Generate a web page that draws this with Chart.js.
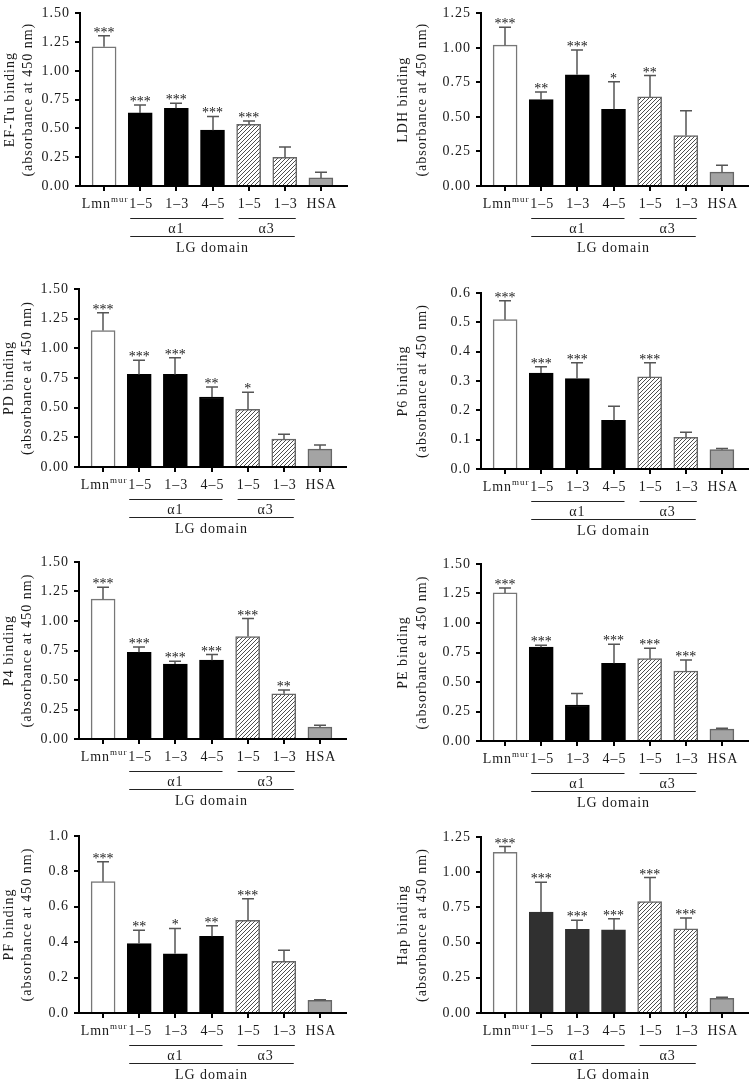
<!DOCTYPE html>
<html>
<head>
<meta charset="utf-8">
<script src="https://cdn.jsdelivr.net/npm/chart.js@4.4.1/dist/chart.umd.min.js"></script>
<style>
body{margin:0;background:#fff;}
#wrap{position:relative;width:750px;height:1082px;}
canvas{position:absolute;}
</style>
</head>
<body>
<div id="wrap"></div>
<script>
/* categories and groups */
const categories = ["Lmn", "1–5", "1–3", "4–5", "1–5", "1–3", "HSA"];
const groupNames = ["α1", "α3"];
const domainName = "LG domain";
const unitLine = "(absorbance at 450 nm)";

/* values: mean, error (upper), significance */
const efTuMean = [1.21, 0.635, 0.675, 0.485, 0.535, 0.25, 0.07];
const efTuErr  = [0.095, 0.07, 0.045, 0.12, 0.03, 0.09, 0.05];
const efTuSig  = ["***", "***", "***", "***", "***", "", ""];

const ldhMean = [1.02, 0.625, 0.805, 0.555, 0.645, 0.365, 0.10];
const ldhErr  = [0.13, 0.055, 0.18, 0.20, 0.155, 0.18, 0.05];
const ldhSig  = ["***", "**", "***", "*", "**", "", ""];

const pdMean = [1.15, 0.78, 0.78, 0.59, 0.485, 0.235, 0.15];
const pdErr  = [0.15, 0.12, 0.14, 0.085, 0.145, 0.04, 0.035];
const pdSig  = ["***", "***", "***", "**", "*", "", ""];

const p6Mean = [0.509, 0.327, 0.308, 0.166, 0.314, 0.108, 0.066];
const p6Err  = [0.065, 0.022, 0.054, 0.048, 0.048, 0.017, 0.004];
const p6Sig  = ["***", "***", "***", "", "***", "", ""];

const p4Mean = [1.185, 0.735, 0.635, 0.668, 0.868, 0.383, 0.10];
const p4Err  = [0.10, 0.045, 0.023, 0.048, 0.153, 0.032, 0.017];
const p4Sig  = ["***", "***", "***", "***", "***", "**", ""];

const peMean = [1.255, 0.795, 0.305, 0.658, 0.698, 0.593, 0.10];
const peErr  = [0.042, 0.017, 0.097, 0.161, 0.087, 0.093, 0.008];
const peSig  = ["***", "***", "", "***", "***", "***", ""];

const pfMean = [0.742, 0.392, 0.335, 0.433, 0.524, 0.292, 0.072];
const pfErr  = [0.113, 0.075, 0.143, 0.06, 0.122, 0.062, 0.003];
const pfSig  = ["***", "**", "*", "**", "***", "", ""];

const hapMean = [1.142, 0.717, 0.594, 0.59, 0.792, 0.597, 0.104];
const hapErr  = [0.04, 0.212, 0.064, 0.08, 0.17, 0.078, 0.007];
const hapSig  = ["***", "***", "***", "***", "***", "***", ""];

/* y axis: max, step, decimals */
const yMax   = [1.5, 1.25, 1.5, 0.6, 1.5, 1.5, 1.0, 1.25];
const yStep  = [0.25, 0.25, 0.25, 0.1, 0.25, 0.25, 0.2, 0.25];
const yDec   = [2, 2, 2, 1, 2, 2, 1, 2];
const titles = ["EF-Tu binding", "LDH binding", "PD binding", "P6 binding",
                "P4 binding", "PE binding", "PF binding", "Hap binding"];

const panels = [
  [efTuMean, efTuErr, efTuSig], [ldhMean, ldhErr, ldhSig],
  [pdMean, pdErr, pdSig], [p6Mean, p6Err, p6Sig],
  [p4Mean, p4Err, p4Sig], [peMean, peErr, peSig],
  [pfMean, pfErr, pfSig], [hapMean, hapErr, hapSig]
];

/* where each panel sits (canvas offset + plot area inside it) */
const boxes = [
  {x:0,   y:0,   left:80,  top:8,  bottom:186},
  {x:375, y:0,   left:106, top:8,  bottom:186},
  {x:0,   y:270, left:79,  top:19, bottom:197},
  {x:375, y:270, left:106, top:23, bottom:199},
  {x:0,   y:540, left:79,  top:22, bottom:199},
  {x:375, y:540, left:106, top:24, bottom:201},
  {x:0,   y:812, left:79,  top:24, bottom:201},
  {x:375, y:812, left:106, top:25, bottom:201}
];
const PW = 375, PH = 270, PLOT_W = 268;
const FONT = "'Liberation Serif', 'Times New Roman', serif";
const INK = "#1a1a1a";

function hatch(){
  let c = document.createElement("canvas");
  c.width = c.height = 4;
  let g = c.getContext("2d");
  g.fillStyle = "#fff"; g.fillRect(0, 0, 4, 4);
  g.strokeStyle = "#3a3a3a"; g.lineWidth = 0.9;
  g.beginPath();
  g.moveTo(0, 4); g.lineTo(4, 0);
  g.moveTo(-1, 1); g.lineTo(1, -1);
  g.moveTo(3, 5); g.lineTo(5, 3);
  g.stroke();
  return g.createPattern(c, "repeat");
}
const hatchFill = hatch();

/* draws axis, error bars, stars, labels */
function decorPlugin(idx){
  const [mean, err, sig] = panels[idx];
  const col = idx % 2;
  return {
    id: "decor" + idx,
    beforeDraw(chart){ chart.ctx.letterSpacing = "1px"; },
    afterDraw(chart){
      const {ctx, chartArea:a, scales:{x, y}} = chart;
      ctx.save();
      // error bars
      ctx.strokeStyle = "#555"; ctx.lineWidth = 1.5;
      mean.forEach((m, i) => {
        let px = Math.round(x.getPixelForValue(i));
        let b = y.getPixelForValue(m), t = y.getPixelForValue(m + err[i]);
        ctx.beginPath();
        ctx.moveTo(px, b); ctx.lineTo(px, t);
        ctx.moveTo(px - 6, t); ctx.lineTo(px + 6, t);
        ctx.stroke();
      });
      // x axis + ticks
      ctx.strokeStyle = "#000"; ctx.lineWidth = 2;
      ctx.beginPath();
      ctx.moveTo(a.left - 1, a.bottom); ctx.lineTo(a.right, a.bottom);
      categories.forEach((c, i) => {
        let px = Math.round(x.getPixelForValue(i));
        ctx.moveTo(px, a.bottom); ctx.lineTo(px, a.bottom + 5);
      });
      ctx.stroke();
      // stars
      ctx.fillStyle = INK;
      ctx.letterSpacing = "0px";
      ctx.font = "14px " + FONT;
      ctx.textAlign = "center"; ctx.textBaseline = "alphabetic";
      sig.forEach((s, i) => {
        if(!s) return;
        ctx.fillText(s, x.getPixelForValue(i), y.getPixelForValue(mean[i] + err[i]) + 1);
      });
      // category labels
      ctx.letterSpacing = "1px";
      ctx.textBaseline = "middle";
      let ly = a.bottom + 18;
      categories.forEach((c, i) => {
        let px = x.getPixelForValue(i) + 1;
        if(i === 0){
          ctx.font = "14px " + FONT;
          let w1 = ctx.measureText(c).width;
          ctx.font = "9px " + FONT;
          let w2 = ctx.measureText("mur").width;
          let s = px - (w1 + w2) / 2;
          ctx.textAlign = "left";
          ctx.font = "14px " + FONT;
          ctx.fillText(c, s, ly);
          ctx.font = "9px " + FONT;
          ctx.fillText("mur", s + w1, ly - 4);
        } else {
          ctx.textAlign = "center";
          ctx.font = "14px " + FONT;
          ctx.fillText(c, px, ly);
        }
      });
      // group lines
      const X = i => x.getPixelForValue(i);
      ctx.strokeStyle = "#222"; ctx.lineWidth = 1;
      ctx.beginPath();
      ctx.moveTo(X(1) - 10, a.bottom + 32.5); ctx.lineTo(X(3) + 11, a.bottom + 32.5);
      ctx.moveTo(X(4) - 10, a.bottom + 32.5); ctx.lineTo(X(5) + 11, a.bottom + 32.5);
      ctx.moveTo(X(1) - 10, a.bottom + 50.5); ctx.lineTo(X(5) + 10, a.bottom + 50.5);
      ctx.stroke();
      ctx.textAlign = "center";
      ctx.fillText(groupNames[0], X(2), a.bottom + 43);
      ctx.fillText(groupNames[1], (X(4) + X(5)) / 2, a.bottom + 43);
      ctx.fillText(domainName, (X(1) + X(5)) / 2, a.bottom + 62);
      // y title
      ctx.translate(a.left, (a.top + a.bottom) / 2);
      ctx.rotate(-Math.PI / 2);
      ctx.font = "14px " + FONT;
      ctx.fillText(titles[idx], 0, col ? -78 : -70);
      ctx.fillText(unitLine, 0, col ? -59 : -52);
      ctx.restore();
    }
  };
}

const wrap = document.getElementById("wrap");
panels.forEach((p, idx) => {
  const b = boxes[idx];
  const cv = document.createElement("canvas");
  cv.width = PW; cv.height = PH;
  cv.style.left = b.x + "px"; cv.style.top = b.y + "px";
  wrap.appendChild(cv);
  const [mean] = p;
  const dark = idx === 7 ? "#303030" : "#000";
  new Chart(cv, {
    type: "bar",
    data: {
      datasets: [{
        data: mean.map((v, i) => ({x: i, y: v})),
        backgroundColor: ["#fff", dark, dark, dark, hatchFill, hatchFill, "#a4a4a4"],
        borderColor: ["#777", dark, dark, dark, "#666", "#666", "#666"],
        borderWidth: 1.5,
        barThickness: 24
      }]
    },
    options: {
      responsive: false,
      animation: false,
      events: [],
      layout: {padding: {left: 0, top: b.top, right: PW - b.left - PLOT_W, bottom: PH - b.bottom}},
      plugins: {legend: {display: false}, tooltip: {enabled: false}},
      scales: {
        x: {type: "linear", display: false, offset: false, min: -0.667, max: 6.75},
        y: {
          min: 0, max: yMax[idx],
          ticks: {
            stepSize: yStep[idx], padding: 5, color: INK,
            font: {family: FONT, size: 14},
            callback: v => v.toFixed(yDec[idx])
          },
          grid: {drawOnChartArea: false, drawTicks: true, tickLength: 5, color: "#000", lineWidth: 2},
          border: {display: true, color: "#000", width: 2},
          afterFit: s => { s.width = b.left; }
        }
      }
    },
    plugins: [decorPlugin(idx)]
  });
});
</script>
</body>
</html>
